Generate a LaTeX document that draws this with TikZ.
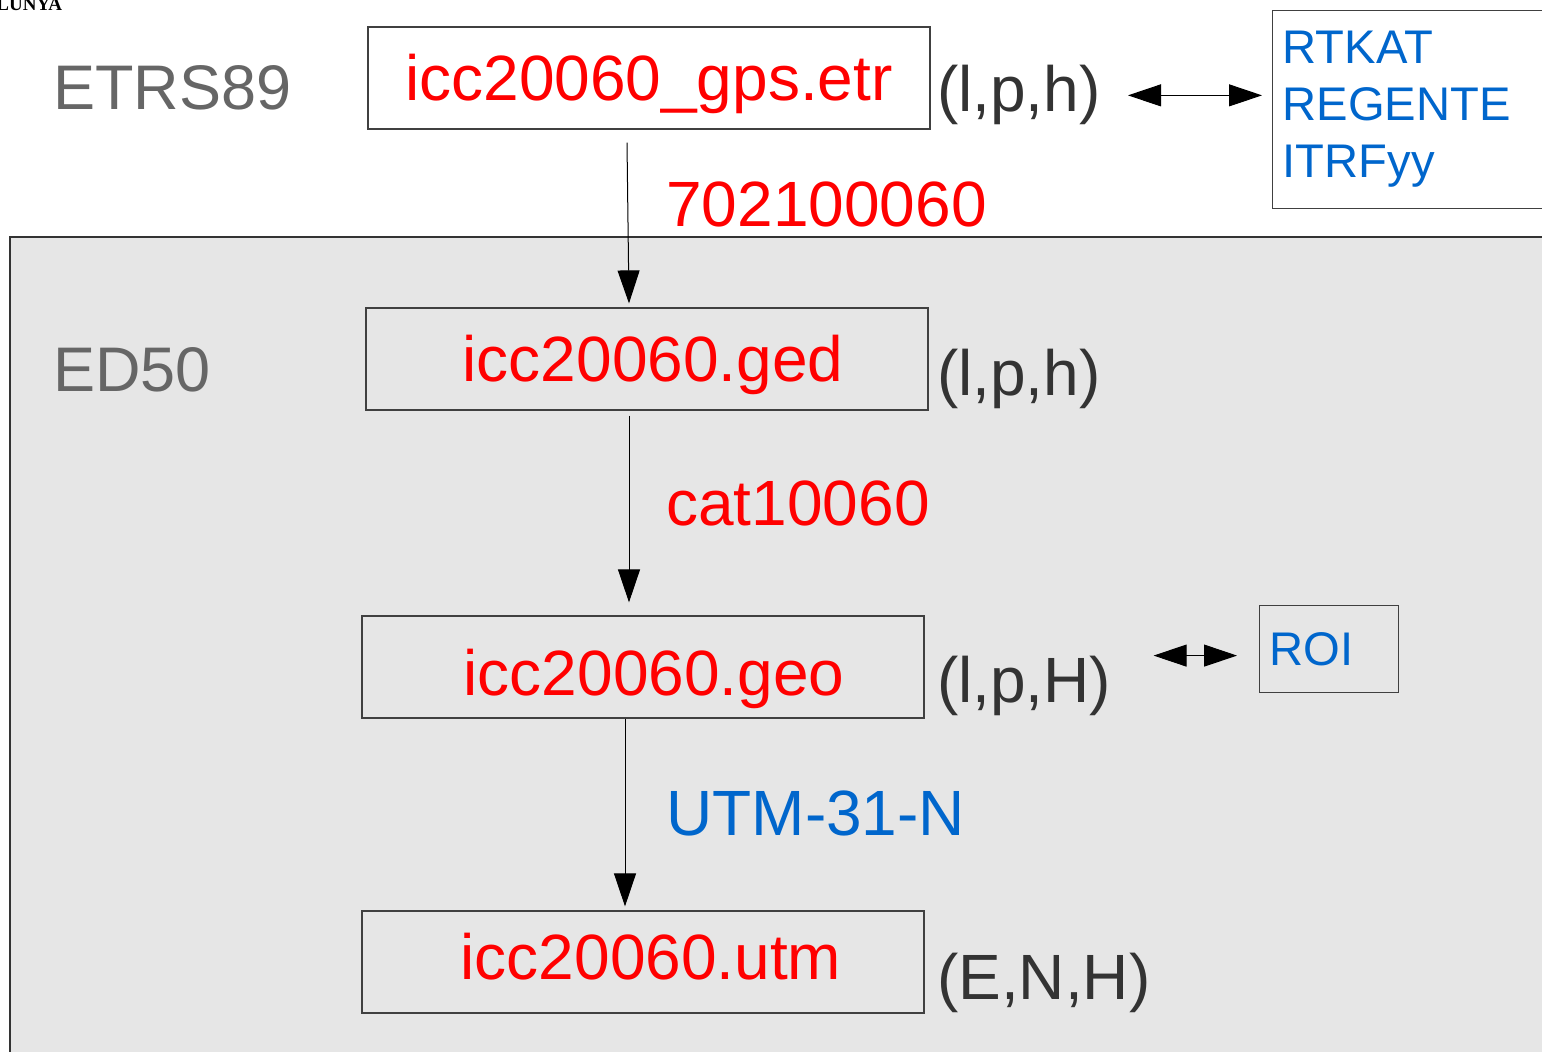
\documentclass[tikz,border=0pt]{standalone}
\usepackage{fontspec}
\setmainfont{Liberation Sans}
\newfontfamily\logofont{Liberation Serif}
\usetikzlibrary{arrows.meta,positioning}
\definecolor{fileRed}{RGB}{255,0,0}
\definecolor{refBlue}{RGB}{0,102,204}
\definecolor{datumGray}{RGB}{102,102,102}
\definecolor{coordGray}{RGB}{51,51,51}
\definecolor{zoneGray}{RGB}{230,230,230}
\newcommand{\bigtxt}{\fontsize{32}{38}\selectfont}
\tikzset{
  file/.style={draw=black!75, line width=0.6pt, minimum width=281pt,
    minimum height=51pt, inner sep=0pt, text=fileRed, font=\bigtxt,
    text height=29pt, text depth=6.7pt},
  coord/.style={inner sep=0pt, anchor=south west, text=coordGray, font=\bigtxt},
  datum/.style={inner sep=0pt, anchor=west, text=datumGray,
    font=\fontsize{31.5}{38}\selectfont},
  trans/.style={inner sep=0pt, anchor=west, font=\bigtxt},
  refbox/.style={draw=black!75, line width=0.6pt, anchor=north west,
    inner xsep=5pt, inner ysep=0pt, align=left, text=refBlue,
    font=\fontsize{23.6}{28.5}\selectfont},
  flow/.style={-{Triangle[length=16.5pt,width=11pt]}, line width=0.5pt},
  dbl/.style={{Triangle[length=16.5pt,width=11pt]}-{Triangle[length=16.5pt,width=11pt]},
    line width=0.5pt},
}
\begin{document}
\begin{tikzpicture}[x=0.5pt,y=-0.5pt]
  \clip (0,0) rectangle (1542,1052);
  \fill[white] (0,0) rectangle (1542,1052);
  % ED50 zone
  \filldraw[fill=zoneGray, draw=black!80, line width=0.6pt] (10,237) rectangle (1600,1100);

  \node[inner sep=0pt, anchor=base west, font=\logofont\bfseries\fontsize{9.5}{10}\selectfont] (logo) at (-4,11) {LUNYA};

  \node[datum] (etrs) at (53,88) {ETRS89};
  \node[datum] (ed50) at (53,370) {ED50};

  % files
  \node[file] (etr) at (649,78) {icc20060\_gps.etr};
  \node[file] (ged) at (647,359) {\hspace*{6pt}icc20060.ged};
  \node[file, text height=35.7pt] (geo) at (643,667) {\hspace*{11pt}icc20060.geo};
  \node[file, text height=23.7pt] (utm) at (643,962) {\hspace*{8pt}icc20060.utm};

  \node[coord] (lph1) at ([shift={(3pt,2pt)}]etr.south east) {(l,p,h)};
  \node[coord] (lph2) at ([shift={(4pt,0.5pt)}]ged.south east) {(l,p,h)};
  \node[coord] (lpH) at ([shift={(6pt,1pt)}]geo.south east) {(l,p,H)};
  \node[coord] (ENH) at ([shift={(6pt,0pt)}]utm.south east) {(E,N,H)};

  % transformations
  \node[trans, text=fileRed] (t_etr) at (666,204) {702100060};
  \node[trans, text=fileRed] (t_ged) at (666,503) {cat10060};
  \node[trans, text=refBlue] (t_geo) at (666,813) {UTM-31-N};

  \draw[flow] ([xshift=-11pt,yshift=-6.5pt]etr.south) -- ([xshift=-9pt,yshift=2pt]ged.north);
  \draw[flow] ([xshift=-9pt,yshift=-2.5pt]ged.south) -- ([xshift=-7pt,yshift=6.5pt]geo.north);
  \draw[flow] ([xshift=-9pt]geo.south) -- ([xshift=-9pt,yshift=2pt]utm.north);

  % frames
  \node[refbox, fill=white, text width=140pt, minimum height=99pt] (refs) at (1272,10) {RTKAT\\REGENTE\\ITRFyy};
  \node[refbox, text width=59.5pt, minimum height=43.5pt] (roi) at (1259,605) {ROI};

  \draw[dbl, shorten <=13.5pt, shorten >=5pt] (lph1.east) -- (lph1.east -| refs.west);
  \coordinate (roiin) at ([yshift=-3.25pt]roi.west);
  \draw[dbl, shorten <=21pt, shorten >=11pt] (roiin -| lpH.east) -- (roiin);
\end{tikzpicture}
\end{document}
